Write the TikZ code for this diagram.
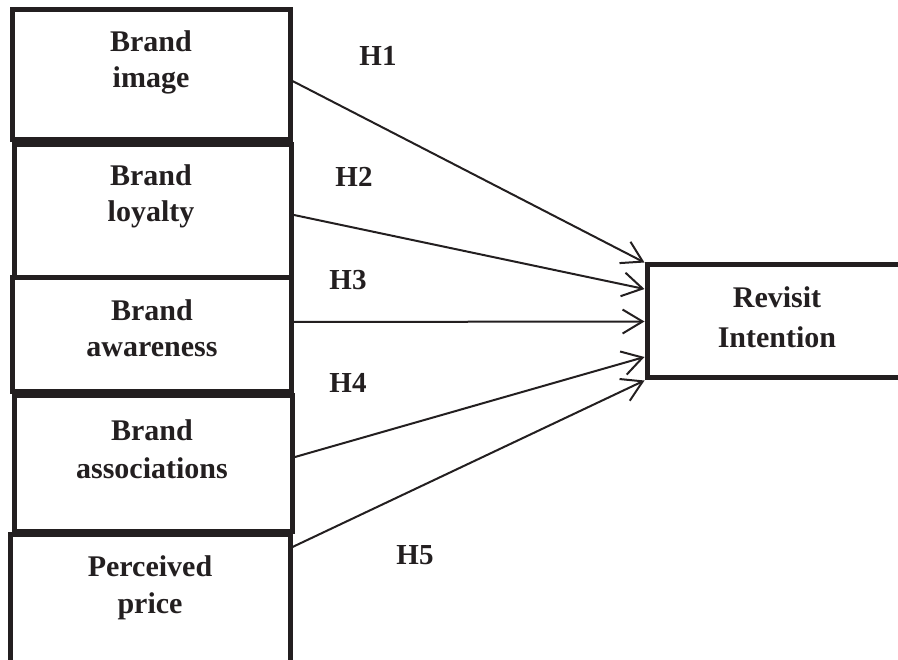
\documentclass[tikz,border=0pt]{standalone}
\usepackage{fontspec}
\setmainfont{Liberation Serif}
\usetikzlibrary{arrows.meta}
\definecolor{ink}{HTML}{231F20}
\begin{document}
\begin{tikzpicture}[x=1pt,y=-1pt,
  box/.style={draw=ink, line width=5pt, inner sep=0pt},
  lbl/.style={text=ink, font=\fontsize{30}{#1}\selectfont\bfseries, align=center, anchor=base, inner sep=0pt},
  lbl/.default=36.5,
  hyp/.style={text=ink, font=\fontsize{29}{35}\selectfont\bfseries, anchor=base, inner sep=0pt},
  arr/.style={draw=ink, line width=2pt, -{Straight Barb[length=20pt,width=24pt]}}]
\useasboundingbox (0,0) rectangle (898,660);
\clip (0,0) rectangle (898,660);
% boxes
\node[box, minimum width=277.5pt, minimum height=129.5pt] (b1) at (151.25,74.75) {};
\node[box, minimum width=277pt, minimum height=133pt] (b2) at (153,211) {};
\node[box, minimum width=278.5pt, minimum height=114.5pt] (b3) at (151.75,334.75) {};
\node[box, minimum width=278.5pt, minimum height=136pt] (b4) at (153.25,464) {};
\node[box, minimum width=279.5pt, minimum height=155pt] (b5) at (150.25,612.5) {};
\node[box, minimum width=273pt, minimum height=113pt] (r) at (783.5,321.5) {};
% texts (anchor = baseline of the last line)
\node[lbl] (t1) at (151,88) {Brand\\image};
\node[lbl] (t2) at (151,222) {Brand\\loyalty};
\node[lbl] (t3) at (152,357) {Brand\\awareness};
\node[lbl=39] (t4) at (152,479) {Brand\\associations};
\node[lbl] (t5) at (150,613) {Perceived\\price};
\node[lbl=40] (tr) at (777,348) {Revisit\\Intention};
% hypotheses
\node[hyp] (h1) at (378,66) {H1};
\node[hyp] (h2) at (354,187) {H2};
\node[hyp] (h3) at (348,290) {H3};
\node[hyp] (h4) at (348,393) {H4};
\node[hyp] (h5) at (415,565) {H5};
% arrows
\draw[arr] ([yshift=-6.25pt]b1.east) -- (r.north west);
\draw[arr] ([yshift=-4pt]b2.east) -- ([yshift=32.5pt]r.west);
\draw[arr] ([yshift=12.75pt]b3.east) -- (r.west);
\draw[arr] ([yshift=7pt]b4.east) -- ([yshift=-35.5pt]r.west);
\draw[arr] ([yshift=65.5pt]b5.east) -- (r.south west);
\end{tikzpicture}
\end{document}
